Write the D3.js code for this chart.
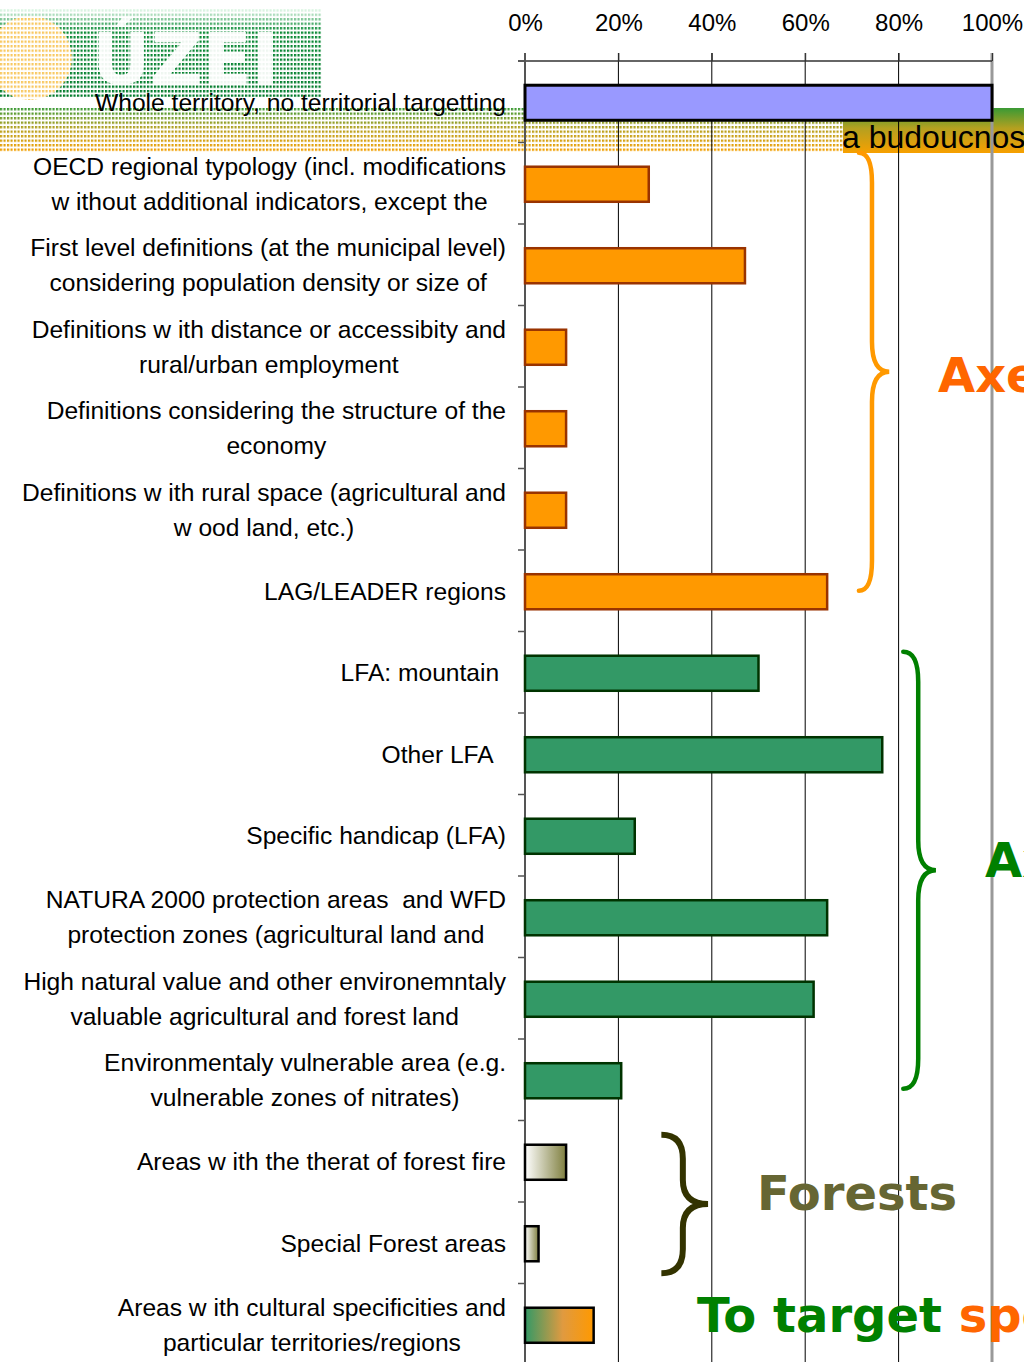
<!DOCTYPE html>
<html>
<head>
<meta charset="utf-8">
<script src="https://cdn.jsdelivr.net/npm/d3@7"></script>
<style>
  body { margin: 0; background: #fff; }
  svg { display: block; }
  .lab { font-family: "Liberation Sans", Arial, sans-serif; font-size: 24.6px; fill: #000; white-space: pre; }
  .tick text { font-family: "Liberation Sans", Arial, sans-serif; font-size: 24px; fill: #000; }
  .big { font-family: "DejaVu Sans", Verdana, sans-serif; font-weight: bold; font-size: 48px; }
</style>
</head>
<body>
<svg id="chart" width="1024" height="1362"></svg>
<script>
// category labels, one array of lines per bar
var labels = [
  ["Whole territory, no territorial targetting"],
  ["OECD regional typology (incl. modifications", "w ithout additional indicators, except the"],
  ["First level definitions (at the municipal level)", "considering population density or size of"],
  ["Definitions w ith distance or accessibity and", "rural/urban employment"],
  ["Definitions considering the structure of the", "economy"],
  ["Definitions w ith rural space (agricultural and", "w ood land, etc.)"],
  ["LAG/LEADER regions"],
  ["LFA: mountain "],
  ["Other LFA  "],
  ["Specific handicap (LFA)"],
  ["NATURA 2000 protection areas  and WFD", "protection zones (agricultural land and"],
  ["High natural value and other environemntaly", "valuable agricultural and forest land"],
  ["Environmentaly vulnerable area (e.g.", "vulnerable zones of nitrates)"],
  ["Areas w ith the therat of forest fire"],
  ["Special Forest areas"],
  ["Areas w ith cultural specificities and", "particular territories/regions"]
];
// share of answers (%)
var values = [100, 26.5, 47.1, 8.8, 8.8, 8.8, 64.7, 50, 76.5, 23.5, 64.7, 61.8, 20.6, 8.8, 2.9, 14.7];
// which group each bar belongs to
var groups = ["whole", "axe3", "axe3", "axe3", "axe3", "axe3", "axe3",
              "axe2", "axe2", "axe2", "axe2", "axe2", "axe2", "forest", "forest", "culture"];
var ticks = [0, 20, 40, 60, 80, 100];

var svg = d3.select("#chart");
var defs = svg.append("defs");

var ids = d3.range(labels.length);
var x = d3.scaleLinear().domain([0, 100]).range([525, 992]);
var y = d3.scaleBand().domain(ids).range([61, 61 + 16 * 81.5])
  .paddingInner(0.57).paddingOuter(0.285);

// gradients
function grad(id, stops, vertical) {
  var g = defs.append("linearGradient").attr("id", id)
    .attr("x1", 0).attr("y1", 0).attr("x2", vertical ? 0 : 1).attr("y2", vertical ? 1 : 0);
  stops.forEach(function(s) {
    g.append("stop").attr("offset", s[0]).attr("stop-color", s[1]);
  });
}
grad("gForest", [[0, "#ffffff"], [1, "#7f7f3f"]]);
grad("gCult", [[0, "#339966"], [0.55, "#e09a40"], [1, "#ff9900"]]);
grad("gBand", [[0, "#3a9a35"], [0.45, "#b4a020"], [1, "#f7a000"]], true);
grad("gLogo", [[0, "#f0fff4"], [0.25, "#0a8a35"], [1, "#007a2a"]], true);

// dotted mask for the faded logo / banner behind the chart
var pat = defs.append("pattern").attr("id", "dots").attr("patternUnits", "userSpaceOnUse")
  .attr("width", 3.5).attr("height", 4.5);
pat.append("rect").attr("width", 2.2).attr("height", 2.4).attr("fill", "#fff");
defs.append("mask").attr("id", "dotMask")
  .append("rect").attr("width", 1024).attr("height", 1362).attr("fill", "url(#dots)");

var deco = svg.append("g").attr("class", "deco");
var logo = deco.append("g").attr("mask", "url(#dotMask)");
logo.append("rect").attr("x", 0).attr("y", 8).attr("width", 322).attr("height", 89).attr("fill", "url(#gLogo)");
logo.append("circle").attr("cx", 30).attr("cy", 58).attr("r", 42).attr("fill", "#f8c860");
logo.append("text").attr("x", 92).attr("y", 84)
  .attr("font-family", "DejaVu Sans").attr("font-weight", "bold").attr("font-size", 72)
  .attr("fill", "#eef6f0").text("ÚZEI");
logo.append("rect").attr("x", 0).attr("y", 108).attr("width", 843).attr("height", 45).attr("fill", "url(#gBand)");
deco.append("rect").attr("x", 843).attr("y", 108).attr("width", 181).attr("height", 45).attr("fill", "url(#gBand)");
deco.append("text").attr("x", 842).attr("y", 148)
  .attr("font-family", "Liberation Sans").attr("font-size", 32).attr("fill", "#000")
  .text("a budoucnost");

// gridlines
svg.append("g").selectAll("line").data(ticks.slice(1)).join("line")
  .attr("x1", function(d) { return x(d); }).attr("x2", function(d) { return x(d); })
  .attr("y1", 53).attr("y2", 1362)
  .attr("stroke", function(d) { return d === 100 ? "#999" : "#000"; })
  .attr("stroke-width", function(d) { return d === 100 ? 3 : 1; });

// top axis
var axis = svg.append("g").attr("transform", "translate(0,61)")
  .call(d3.axisTop(x).tickValues(ticks).tickFormat(function(d) { return d + "%"; })
    .tickSize(8).tickSizeOuter(0).tickPadding(22));
axis.select(".domain").remove();
axis.selectAll(".tick line").attr("stroke", "#333");
svg.append("line").attr("x1", 518).attr("x2", x(100)).attr("y1", 61).attr("y2", 61)
  .attr("stroke", "#333").attr("stroke-width", 1.5);

// left axis with ticks at band boundaries
svg.append("line").attr("x1", x(0)).attr("x2", x(0)).attr("y1", 53).attr("y2", 1362)
  .attr("stroke", "#555").attr("stroke-width", 2);
svg.append("g").selectAll("line").data(d3.range(labels.length + 1)).join("line")
  .attr("x1", 518).attr("x2", x(0))
  .attr("y1", function(i) { return 61 + i * y.step(); })
  .attr("y2", function(i) { return 61 + i * y.step(); })
  .attr("stroke", "#555").attr("stroke-width", 1.5);

// bars
var fills = { whole: "#9999ff", axe3: "#ff9900", axe2: "#339966", forest: "url(#gForest)", culture: "url(#gCult)" };
var strokes = { whole: "#000", axe3: "#993300", axe2: "#003300", forest: "#000", culture: "#000" };
svg.append("g").selectAll("rect").data(ids).join("rect")
  .attr("x", x(0))
  .attr("y", function(i) { return y(i) + 1; })
  .attr("width", function(i) { return x(values[i]) - x(0); })
  .attr("height", y.bandwidth())
  .attr("fill", function(i) { return fills[groups[i]]; })
  .attr("stroke", function(i) { return strokes[groups[i]]; })
  .attr("stroke-width", function(i) { return groups[i] === "whole" ? 3 : 2.5; });

// category labels: lines centred on the longest line, block right-aligned
var labG = svg.append("g");
ids.forEach(function(i) {
  var lines = labels[i];
  var cy = y(i) + y.bandwidth() / 2;
  var t = labG.append("text").attr("class", "lab");
  lines.forEach(function(l, k) {
    t.append("tspan").attr("y", cy + (k - (lines.length - 1) / 2) * 35 + 9).text(l);
  });
  var w = d3.max(t.selectAll("tspan").nodes(), function(n) { return n.getComputedTextLength(); });
  t.attr("text-anchor", "middle").selectAll("tspan").attr("x", 506 - w / 2);
});

// braces
function brace(x0, xm, x1, top, bot, r) {
  var mid = (top + bot) / 2;
  return "M" + x0 + "," + top +
    " Q" + xm + "," + top + " " + xm + "," + (top + r) +
    " L" + xm + "," + (mid - r) +
    " Q" + xm + "," + mid + " " + x1 + "," + mid +
    " Q" + xm + "," + mid + " " + xm + "," + (mid + r) +
    " L" + xm + "," + (bot - r) +
    " Q" + xm + "," + bot + " " + x0 + "," + bot;
}
var br = svg.append("g").attr("fill", "none").attr("stroke-linecap", "round");
br.append("path").attr("d", brace(x(71.5), x(74.3), x(78), y(1) - 13, y(6) + y.bandwidth() / 2, 30))
  .attr("stroke", "#ff9900").attr("stroke-width", 4.5);
br.append("path").attr("d", brace(x(81), x(84.2), x(88), y(7) - 3, y(12) + y.bandwidth() / 2 + 9, 30))
  .attr("stroke", "#008000").attr("stroke-width", 4.5);
br.append("path").attr("d", brace(x(29.2), x(33.8), x(39.2), y(13) - 9, y(14) + 48, 24))
  .attr("stroke", "#333300").attr("stroke-width", 6).attr("stroke-linecap", "butt");

// group captions
svg.append("text").attr("class", "big").attr("x", 938).attr("y", 392).attr("fill", "#ff6600").text("Axe 3");
svg.append("text").attr("class", "big").attr("x", 985).attr("y", 877).attr("fill", "#008000").text("Axe 2");
svg.append("text").attr("class", "big").attr("x", 757).attr("y", 1210).attr("fill", "#666633").text("Forests");
var tt = svg.append("text").attr("class", "big").attr("x", 697).attr("y", 1332);
tt.append("tspan").attr("fill", "#008000").text("To target ");
tt.append("tspan").attr("fill", "#ff6600").text("specificities");
</script>
</body>
</html>
